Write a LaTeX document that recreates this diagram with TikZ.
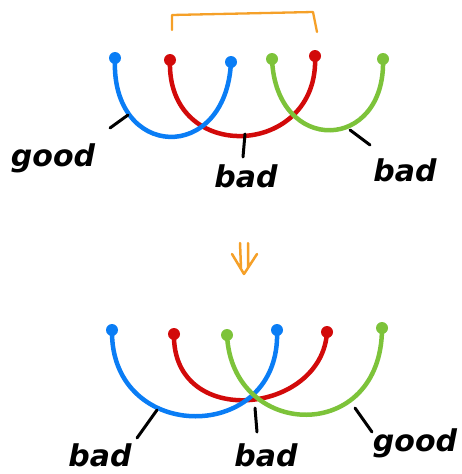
\documentclass[tikz,border=0pt]{standalone}
\usepackage{fontspec}
\setmainfont{DejaVu Sans}
\definecolor{cblue}{HTML}{0A7DF5}
\definecolor{cred}{HTML}{D20A0A}
\definecolor{cgreen}{HTML}{7DC33A}
\definecolor{corange}{HTML}{F5A028}
\begin{document}
\begin{tikzpicture}[x=1pt,y=-1pt,
  dot/.style={circle,fill=#1,inner sep=0pt,minimum size=12pt},
  arc/.style={line width=4.5pt,line cap=round,draw=#1},
  tick/.style={line width=3pt,line cap=round,black},
  lab/.style={font=\fontsize{30}{32}\selectfont\itshape\bfseries,inner sep=0pt}]
\useasboundingbox (0,0) rectangle (461,474);
% ---- top ----
\coordinate (o1) at (172,30); \coordinate (o2) at (172,15);
\coordinate (o3) at (313,12); \coordinate (o4) at (317,32);
\draw[corange,line width=2.3pt,line cap=round,line join=round] (o1) -- (o2) -- (o3) -- (o4);
\node[dot=cblue] (tb1) at (115,58) {};
\node[dot=cblue] (tb2) at (231,62) {};
\node[dot=cred] (tr1) at (170,60) {};
\node[dot=cred] (tr2) at (315,56) {};
\node[dot=cgreen] (tg1) at (272,59) {};
\node[dot=cgreen] (tg2) at (383,59) {};
\draw[arc=cred] (tr1.center) .. controls (166,166) and (320,158) .. (tr2.center);
\draw[arc=cblue] (tb1.center) .. controls (110,160) and (226,165) .. (tb2.center);
\draw[arc=cgreen] (tg1.center) .. controls (276,156) and (386,152) .. (tg2.center);
\coordinate (tk1a) at (128,115); \coordinate (tk1b) at (110,128);
\coordinate (tk2a) at (245,134); \coordinate (tk2b) at (243,157);
\coordinate (tk3a) at (350,130); \coordinate (tk3b) at (370,145);
\draw[tick] (tk1a) -- (tk1b);
\draw[tick] (tk2a) -- (tk2b);
\draw[tick] (tk3a) -- (tk3b);
\node[lab] (tl1) at (53,158) {good};
\node[lab] (tl2) at (246,176) {bad};
\node[lab] (tl3) at (405,170) {bad};
% ---- arrow (double, downward) ----
\coordinate (s1a) at (240,243); \coordinate (s1b) at (241,268);
\coordinate (s2a) at (248,243); \coordinate (s2b) at (248,268);
\coordinate (ch1) at (232,254); \coordinate (ch2) at (244,274); \coordinate (ch3) at (257,254);
\draw[corange,line width=2.5pt,line cap=round,line join=round] (s1a) -- (s1b) (s2a) -- (s2b) (ch1) -- (ch2) -- (ch3);
% ---- bottom ----
\node[dot=cblue] (bb1) at (112,330) {};
\node[dot=cblue] (bb2) at (277,330) {};
\node[dot=cred] (br1) at (174,334) {};
\node[dot=cred] (br2) at (327,332) {};
\node[dot=cgreen] (bg1) at (227,335) {};
\node[dot=cgreen] (bg2) at (382,328) {};
\draw[arc=cred] (br1.center) .. controls (172,430) and (322,415) .. (br2.center);
\draw[arc=cblue] (bb1.center) .. controls (110,445) and (282,445) .. (bb2.center);
\draw[arc=cgreen] (bg1.center) .. controls (232,440) and (382,445) .. (bg2.center);
\coordinate (bk1a) at (157,410); \coordinate (bk1b) at (137,438);
\coordinate (bk2a) at (255,408); \coordinate (bk2b) at (257,432);
\coordinate (bk3a) at (355,408); \coordinate (bk3b) at (372,432);
\draw[tick] (bk1a) -- (bk1b);
\draw[tick] (bk2a) -- (bk2b);
\draw[tick] (bk3a) -- (bk3b);
\node[lab] (bl1) at (100,455) {bad};
\node[lab] (bl2) at (266,455) {bad};
\node[lab] (bl3) at (415,443) {good};
\end{tikzpicture}
\end{document}
